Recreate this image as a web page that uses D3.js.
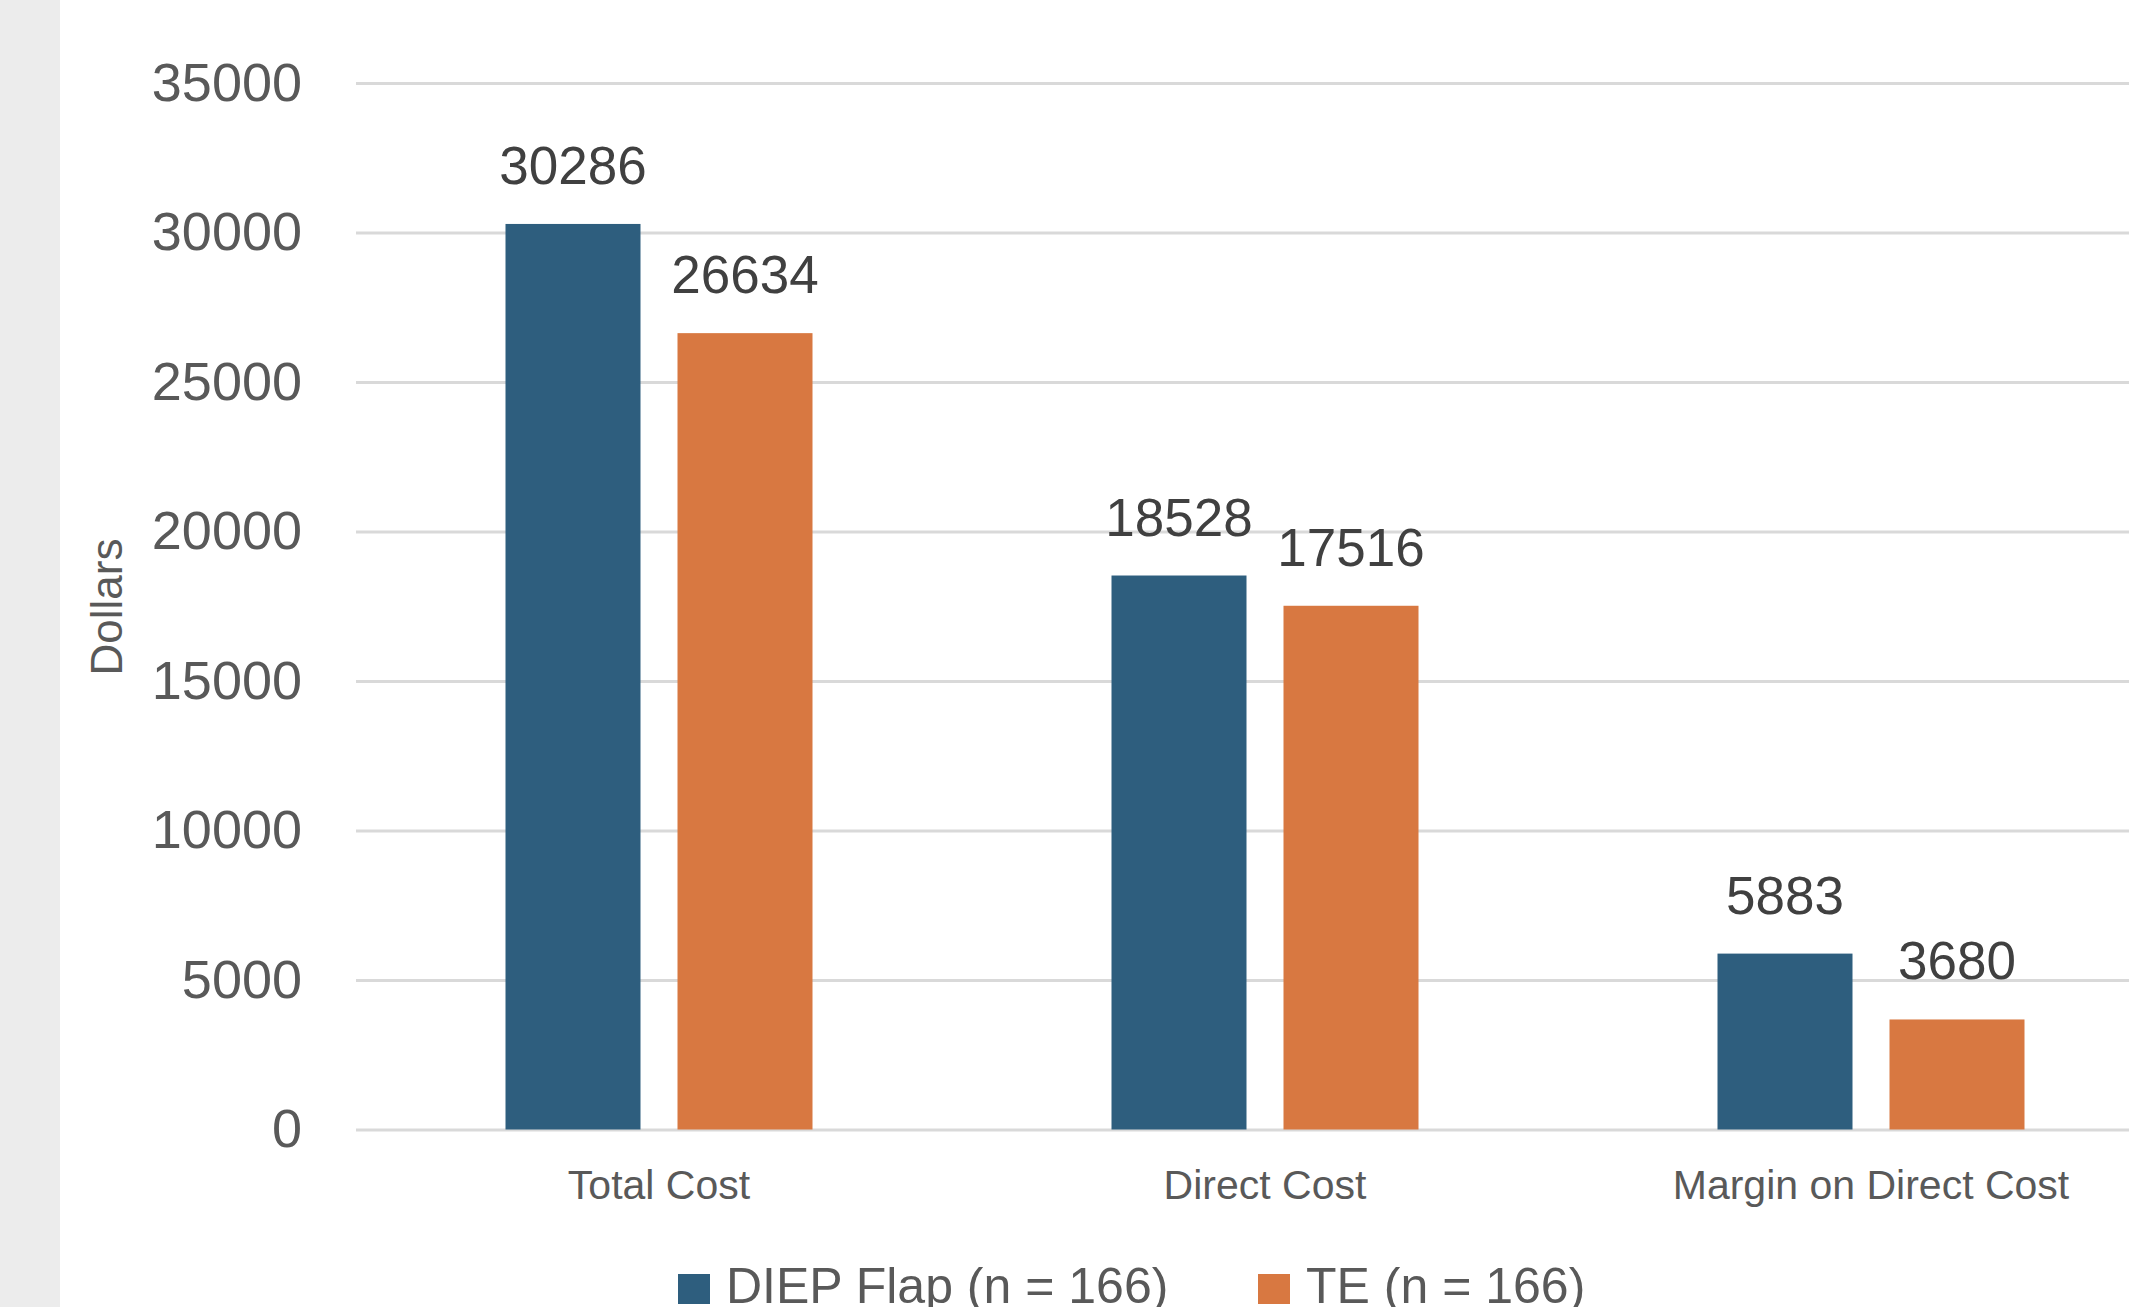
<!DOCTYPE html>
<html>
<head>
<meta charset="utf-8">
<script src="https://cdn.jsdelivr.net/npm/d3@7"></script>
<style>
  body { margin: 0; background: #fff; }
  svg { display: block; font-family: "Liberation Sans", Arial, sans-serif; }
</style>
</head>
<body>
<script>
var categories = ["Total Cost", "Direct Cost", "Margin on Direct Cost"]
var seriesNames = ["DIEP Flap (n = 166)", "TE (n = 166)"]
var diepValues = [30286, 18528, 5883]
var teValues = [26634, 17516, 3680]
var yTicks = [0, 5000, 10000, 15000, 20000, 25000, 30000, 35000]
var colors = ["#2e5e7e", "#d87841"]

var width = 2129
var height = 1307

var rows = categories.map(function(c, i) {
  return {cat: c, vals: [diepValues[i], teValues[i]]}
})

var svg = d3.select("body").append("svg")
  .attr("width", width)
  .attr("height", height)

// grey strip on the left side
svg.append("rect")
  .attr("x", 0).attr("y", 0)
  .attr("width", 60).attr("height", height)
  .attr("fill", "#ececec")

var left = 356
var right = 2174   // plot runs past the right edge, cropped like the original
var y = d3.scaleLinear().domain([0, 35000]).range([1129.5, 83])

var x0 = d3.scaleBand()
  .domain(categories)
  .range([left, right])
  .paddingInner(0.4934)
  .paddingOuter(0.2467)

var x1 = d3.scaleBand()
  .domain(seriesNames)
  .range([0, x0.bandwidth()])
  .paddingInner(0.2151)

// gridlines
var grid = svg.append("g")
  .attr("transform", "translate(" + left + ",0)")
  .call(d3.axisLeft(y).tickValues(yTicks).tickSize(-(right - left)).tickFormat(""))
grid.select(".domain").remove()
grid.selectAll("line").attr("stroke", "#d9d9d9").attr("stroke-width", 3)

// y tick labels
var yAxis = svg.append("g")
  .attr("transform", "translate(" + left + ",0)")
  .call(d3.axisLeft(y).tickValues(yTicks).tickSize(0).tickPadding(54).tickFormat(d3.format("d")))
yAxis.select(".domain").remove()
yAxis.selectAll("text")
  .attr("fill", "#595959")
  .style("font-size", "54px")
  .style("font-family", "Liberation Sans, Arial, sans-serif")

// y title
svg.append("text")
  .attr("transform", "translate(122,607) rotate(-90)")
  .attr("text-anchor", "middle")
  .attr("fill", "#595959")
  .style("font-size", "44px")
  .text("Dollars")

// bars
var groups = svg.selectAll(".grp")
  .data(rows)
  .enter()
  .append("g")
  .attr("class", "grp")
  .attr("transform", function(d) { return "translate(" + x0(d.cat) + ",0)" })

groups.selectAll("rect")
  .data(function(d) { return d.vals.map(function(v, i) { return {name: seriesNames[i], v: v, i: i} }) })
  .enter()
  .append("rect")
  .attr("x", function(d) { return x1(d.name) })
  .attr("y", function(d) { return y(d.v) })
  .attr("width", x1.bandwidth())
  .attr("height", function(d) { return y(0) - y(d.v) })
  .attr("fill", function(d) { return colors[d.i] })

groups.selectAll(".lbl")
  .data(function(d) { return d.vals.map(function(v, i) { return {name: seriesNames[i], v: v} }) })
  .enter()
  .append("text")
  .attr("class", "lbl")
  .attr("x", function(d) { return x1(d.name) + x1.bandwidth() / 2 })
  .attr("y", function(d) { return y(d.v) - 40 })
  .attr("text-anchor", "middle")
  .attr("fill", "#404040")
  .style("font-size", "53px")
  .text(function(d) { return d.v })

// category labels
svg.selectAll(".cat")
  .data(categories)
  .enter()
  .append("text")
  .attr("class", "cat")
  .attr("x", function(d) { return x0(d) + x0.bandwidth() / 2 })
  .attr("y", 1199)
  .attr("text-anchor", "middle")
  .attr("fill", "#595959")
  .style("font-size", "41px")
  .text(function(d) { return d })

// legend (sits at the bottom edge, as in the original)
var legendX = [678, 1258]
var legend = svg.selectAll(".leg")
  .data(seriesNames)
  .enter()
  .append("g")
  .attr("class", "leg")
  .attr("transform", function(d, i) { return "translate(" + legendX[i] + ",0)" })
legend.append("rect")
  .attr("x", 0).attr("y", 1274)
  .attr("width", 32).attr("height", 30)
  .attr("fill", function(d, i) { return colors[i] })
legend.append("text")
  .attr("x", 48)
  .attr("y", 1303)
  .attr("fill", "#595959")
  .style("font-size", "50px")
  .text(function(d) { return d })
</script>
</body>
</html>
